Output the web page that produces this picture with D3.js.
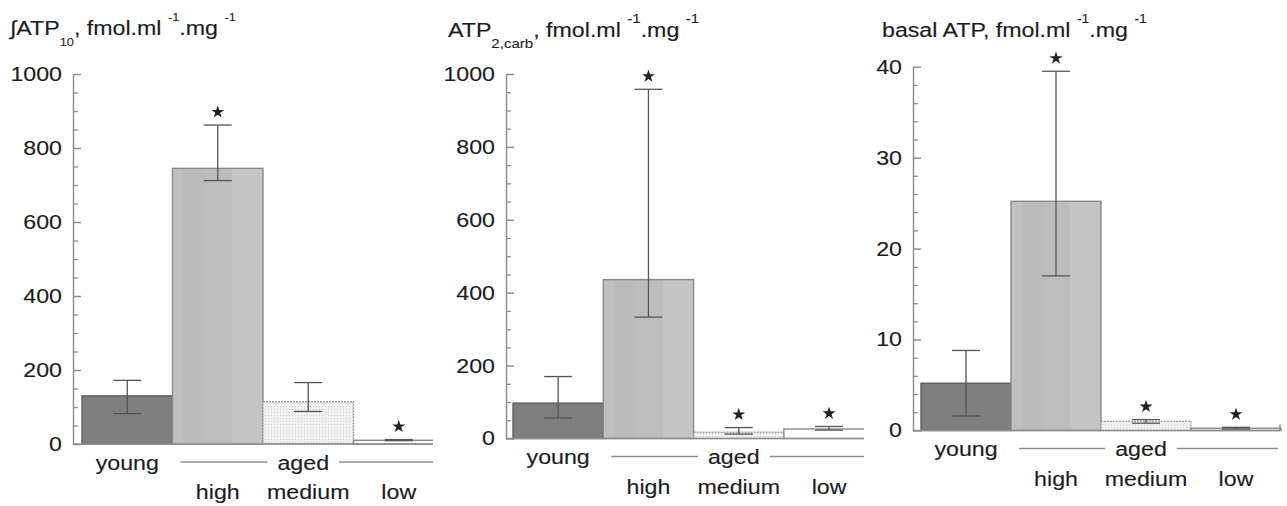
<!DOCTYPE html>
<html>
<head>
<meta charset="utf-8">
<script src="https://cdn.jsdelivr.net/npm/d3@7"></script>
<style>
  body { margin: 0; background: #fff; }
  svg { display: block; font-family: "Liberation Sans", Arial, sans-serif; }
  svg text { stroke: #2a2a2a; stroke-width: 0.15px; }
</style>
</head>
<body>
<script>
// DATA
const categories = ['young', 'high', 'medium', 'low'];

// integral ATP over 10 min
const atp10Mean = [130, 745, 114, 10];
const atp10Upper = [172, 862, 166, 12];
const atp10Lower = [82, 712, 88, 9];
const atp10Star = [false, true, false, true];
const atp10Ticks = [0, 200, 400, 600, 800, 1000];

// ATP 2,carb
const carbMean = [97, 436, 17, 26];
const carbUpper = [170, 958, 30, 33];
const carbLower = [56, 333, 12, 23];
const carbStar = [false, true, true, true];
const carbTicks = [0, 200, 400, 600, 800, 1000];

// basal ATP
const basalMean = [5.2, 25.2, 1.0, 0.25];
const basalUpper = [8.8, 39.5, 1.2, 0.35];
const basalLower = [1.6, 17, 0.8, 0.15];
const basalStar = [false, true, true, true];
const basalTicks = [0, 10, 20, 30, 40];

const titleAtp10 = [['\u222BATP', ''], ['10', 'sub'], [', fmol.ml ', ''], ['-1', 'sup'], ['.mg ', ''], ['-1', 'sup']];
const titleCarb = [['ATP', ''], ['2,carb', 'sub'], [', fmol.ml ', ''], ['-1', 'sup'], ['.mg ', ''], ['-1', 'sup']];
const titleBasal = [['basal ATP, fmol.ml ', ''], ['-1', 'sup'], ['.mg ', ''], ['-1', 'sup']];

const width = 1287;
const height = 506;
const sx = 1.16; // the source font is a little wider than Liberation Sans
const axisCol = '#8e8e8e';
const textCol = '#1c1c1c';
const errCol = '#555';

const panels = [
  { mean: atp10Mean, upper: atp10Upper, lower: atp10Lower, star: atp10Star, ticks: atp10Ticks, minor: 50,
    title: titleAtp10, subSize: 11, titleX: 10, titleY: 35,
    left: 0, right: 433, axisX: 73, y0: 444, yTop: 74, barX0: 82, barW: 90.5 },
  { mean: carbMean, upper: carbUpper, lower: carbLower, star: carbStar, ticks: carbTicks, minor: 50,
    title: titleCarb, subSize: 13, titleX: 448, titleY: 37,
    left: 434, right: 864, axisX: 506, y0: 438.5, yTop: 74, barX0: 513, barW: 90.3 },
  { mean: basalMean, upper: basalUpper, lower: basalLower, star: basalStar, ticks: basalTicks, minor: 2,
    title: titleBasal, subSize: 12, titleX: 882, titleY: 37,
    left: 865, right: 1287, axisX: 913, y0: 430.5, yTop: 66.7, barX0: 921, barW: 90 }
];

const svg = d3.select('body').append('svg')
  .attr('width', width)
  .attr('height', height);

// FILLS
const defs = svg.append('defs');
const grad = defs.append('linearGradient').attr('id', 'highFill')
  .attr('x1', 0).attr('x2', 1).attr('y1', 0).attr('y2', 0);
[[0, '#c0c0c0'], [0.12, '#c0c0c0'], [0.12, '#bbbbbb'], [0.36, '#bbbbbb'], [0.36, '#bdbdbd'],
 [0.66, '#bdbdbd'], [0.66, '#c5c5c5'], [1, '#c5c5c5']].forEach(s => {
  grad.append('stop').attr('offset', s[0]).attr('stop-color', s[1]);
});

const dots = defs.append('pattern').attr('id', 'dots')
  .attr('patternUnits', 'userSpaceOnUse')
  .attr('width', 3).attr('height', 3);
dots.append('rect').attr('width', 3).attr('height', 3).attr('fill', '#f1f1f1');
dots.append('rect').attr('x', 1).attr('y', 1).attr('width', 1).attr('height', 1).attr('fill', '#d2d2d2');

const barFill = ['#7f7f7f', 'url(#highFill)', 'url(#dots)', '#ffffff'];
const barStroke = ['#5e5e5e', '#8a8a8a', '#a0a0a0', '#8a8a8a'];

function stretched(sel, x, y) {
  return sel.attr('transform', `translate(${x},${y}) scale(${sx},1)`);
}

panels.forEach((p, pi) => {
  const clipId = 'clip' + pi;
  defs.append('clipPath').attr('id', clipId)
    .append('rect')
    .attr('x', p.left).attr('y', 0)
    .attr('width', p.right - p.left).attr('height', height);

  const g = svg.append('g').attr('clip-path', `url(#${clipId})`);

  const x = d3.scaleBand()
    .domain(categories)
    .range([p.barX0, p.barX0 + p.barW * categories.length])
    .paddingInner(0).paddingOuter(0);

  const yMax = p.ticks[p.ticks.length - 1];
  const y = d3.scaleLinear().domain([0, yMax]).range([p.y0, p.yTop]);

  // TITLE
  const title = stretched(g.append('text'), p.titleX, p.titleY)
    .attr('font-size', 20)
    .attr('fill', textCol);
  let shift = 0;
  p.title.forEach(([t, kind]) => {
    const target = kind === 'sub' ? 11 : kind === 'sup' ? -14 : 0;
    title.append('tspan')
      .attr('dy', target - shift)
      .attr('font-size', kind ? p.subSize : 20)
      .attr('stroke-width', kind ? 0.1 : null)
      .text(t);
    shift = target;
  });

  // BARS
  const rows = categories.map((c, i) => ({
    c, i, mean: p.mean[i], up: p.upper[i], lo: p.lower[i], star: p.star[i]
  }));

  g.selectAll('rect.bar')
    .data(rows)
    .enter()
    .append('rect')
    .attr('class', 'bar')
    .attr('x', d => x(d.c))
    .attr('width', x.bandwidth())
    .attr('y', d => y(d.mean))
    .attr('height', d => y(0) - y(d.mean))
    .attr('fill', d => barFill[d.i])
    .attr('stroke', d => barStroke[d.i])
    .attr('stroke-width', 1.4)
    .attr('stroke-dasharray', d => (d.i === 2 ? '2,1' : null));

  // ERROR BARS
  const err = g.selectAll('g.err')
    .data(rows)
    .enter()
    .append('g')
    .attr('class', 'err')
    .attr('stroke', errCol)
    .attr('stroke-width', 1.3);
  const cx = d => x(d.c) + x.bandwidth() / 2;
  err.append('line')
    .attr('x1', cx).attr('x2', cx)
    .attr('y1', d => y(d.lo)).attr('y2', d => y(d.up));
  err.append('line')
    .attr('x1', d => cx(d) - 14).attr('x2', d => cx(d) + 14)
    .attr('y1', d => y(d.up)).attr('y2', d => y(d.up));
  err.append('line')
    .attr('x1', d => cx(d) - 14).attr('x2', d => cx(d) + 14)
    .attr('y1', d => y(d.lo)).attr('y2', d => y(d.lo));

  // STARS
  g.selectAll('path.star')
    .data(rows.filter(d => d.star))
    .enter()
    .append('path')
    .attr('class', 'star')
    .attr('d', d3.symbol().type(d3.symbolStar).size(52))
    .attr('transform', d => `translate(${cx(d)},${y(d.up) - 13})`)
    .attr('fill', '#222');

  // Y-AXIS
  const minors = d3.range(0, yMax + 1e-9, p.minor).filter(v => !p.ticks.includes(v));
  const minorAxis = g.append('g')
    .attr('transform', `translate(${p.axisX},0)`)
    .call(d3.axisLeft(y).tickValues(minors).tickSize(-5).tickFormat(''));
  minorAxis.select('.domain').remove();
  minorAxis.selectAll('.tick line').attr('stroke', axisCol).attr('stroke-width', 1.3);

  const yAxis = g.append('g')
    .attr('transform', `translate(${p.axisX},0)`)
    .call(d3.axisLeft(y).tickValues(p.ticks).tickFormat(d3.format('d'))
      .tickSizeInner(-8).tickSizeOuter(0).tickPadding(11));
  yAxis.attr('font-family', null).attr('font-size', null);
  yAxis.select('.domain').attr('stroke', axisCol).attr('stroke-width', 1.5);
  yAxis.selectAll('.tick line').attr('stroke', axisCol).attr('stroke-width', 1.5);
  yAxis.selectAll('.tick text')
    .attr('x', null)
    .attr('transform', `translate(-11,0) scale(${sx},1)`)
    .attr('font-size', 20)
    .attr('fill', textCol);

  // X BASELINE
  const xEnd = x.range()[1] - 1;
  g.append('line')
    .attr('x1', p.axisX).attr('x2', xEnd)
    .attr('y1', p.y0).attr('y2', p.y0)
    .attr('stroke', axisCol).attr('stroke-width', 1.5);
  g.append('line')
    .attr('x1', xEnd).attr('x2', xEnd)
    .attr('y1', p.y0).attr('y2', p.y0 - 6)
    .attr('stroke', axisCol).attr('stroke-width', 1.5);

  // CATEGORY LABELS
  const row1 = p.y0 + 25.5;
  const row2 = p.y0 + 55;
  stretched(g.append('text'), x('young') + x.bandwidth() / 2, row1)
    .attr('text-anchor', 'middle').attr('font-size', 20).attr('fill', textCol)
    .text('young');
  ['high', 'medium', 'low'].forEach(c => {
    stretched(g.append('text'), x(c) + x.bandwidth() / 2, row2)
      .attr('text-anchor', 'middle').attr('font-size', 20).attr('fill', textCol)
      .text(c);
  });
  const agedX = x('medium') + x.bandwidth() / 2 - 5;
  const aged = stretched(g.append('text'), agedX, row1)
    .attr('text-anchor', 'middle').attr('font-size', 20).attr('fill', textCol)
    .text('aged');
  const half = aged.node().getComputedTextLength() * sx / 2;
  const sepY = p.y0 + 18;
  g.append('line')
    .attr('x1', x('high') + 8).attr('x2', agedX - half - 10)
    .attr('y1', sepY).attr('y2', sepY)
    .attr('stroke', axisCol).attr('stroke-width', 1.5);
  g.append('line')
    .attr('x1', agedX + half + 10).attr('x2', x.range()[1] - 3)
    .attr('y1', sepY).attr('y2', sepY)
    .attr('stroke', axisCol).attr('stroke-width', 1.5);
});
</script>
</body>
</html>
